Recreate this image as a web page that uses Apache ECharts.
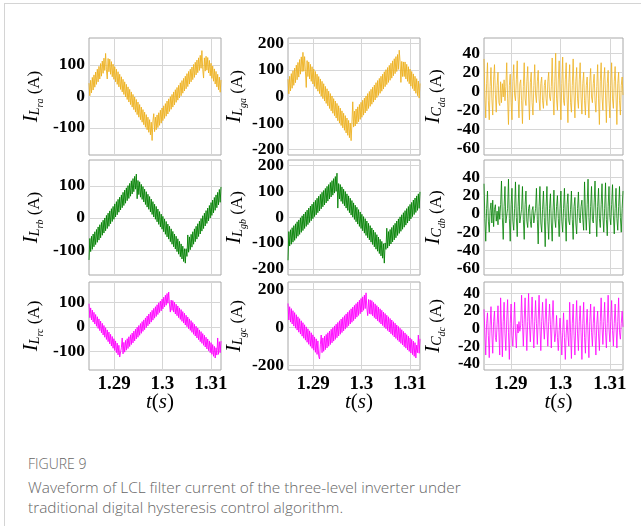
<!DOCTYPE html>
<html>
<head>
<meta charset="utf-8">
<title>Figure 9</title>
<script src="https://cdn.jsdelivr.net/npm/echarts@6.0.0/dist/echarts.min.js"></script>
<style>
  html, body { margin: 0; padding: 0; background: #fff; }
  #frame { position: absolute; left: 4px; top: 3px; width: 700px; height: 600px;
           border-left: 1px solid #d4d4d4; border-top: 1px solid #d4d4d4; }
  #chart { position: absolute; left: 0; top: 0; width: 641px; height: 430px; }
  #caption { position: absolute; left: 28px; top: 456px; font-family: "Open Sans", sans-serif; color: #666; font-weight: 300; }
  #caption .fig { font-size: 14px; line-height: 16px; }
  #caption .txt { margin-top: 6px; font-size: 15.4px; line-height: 20px; }
</style>
</head>
<body>
<div id="frame"></div>
<div id="chart"></div>
<div id="caption">
  <div class="fig">FIGURE 9</div>
  <div class="txt">Waveform of LCL filter current of the three-level inverter under<br>traditional digital hysteresis control algorithm.</div>
</div>
<script>
// time ticks shared by every panel
const timeTicks = [1.29, 1.3, 1.31];

// y tick labels
const yTicksLr = [-100, 0, 100];
const yTicksLg = [-200, -100, 0, 100, 200];
const yTicksLgc = [-200, 0, 200];
const yTicksCab = [-60, -40, -20, 0, 20, 40];
const yTicksCc = [-40, -20, 0, 20, 40];

// inverter-side inductor currents (A) (160 samples each)
const iLra = [42, 2, 51, 11, 60, 20, 68, 29, 77, 38,
  86, 46, 95, 55, 104, 64, 112, 73, 121, 82,
  136, 84, 55, 120, 78, 118, 70, 110, 62, 102,
  54, 94, 46, 86, 38, 78, 30, 70, 22, 62,
  14, 54, 6, 46, -2, 38, -10, 30, -18, 22,
  -26, 14, -34, 6, -42, -2, -50, -10, -58, -18,
  -66, -26, -74, -34, -82, -42, -90, -50, -98, -58,
  -106, -66, -114, -74, -122, -82, -140, -78, -55, -112,
  -66, -106, -59, -99, -52, -92, -44, -85, -37, -77,
  -30, -70, -23, -63, -15, -56, -8, -48, -1, -41,
  6, -34, 14, -27, 21, -19, 28, -12, 35, -5,
  43, 2, 50, 10, 57, 17, 64, 24, 72, 31,
  79, 39, 86, 46, 93, 53, 101, 60, 108, 68,
  115, 75, 122, 82, 130, 89, 145, 85, 58, 122,
  80, 127, 83, 123, 74, 114, 65, 105, 57, 96,
  48, 87, 39, 79, 30, 70, 21, 61, 13, 52];
const iLrb = [-131, -64, -105, -57, -98, -50, -90, -43, -83, -36,
  -76, -28, -69, -21, -62, -14, -54, -7, -47, 0,
  -40, 8, -33, 15, -26, 22, -18, 29, -11, 36,
  -4, 44, 3, 51, 10, 58, 18, 65, 25, 72,
  32, 80, 39, 87, 46, 94, 54, 101, 61, 108,
  68, 116, 75, 123, 82, 130, 90, 137, 60, 117,
  73, 113, 65, 105, 58, 98, 50, 90, 42, 82,
  34, 74, 27, 67, 19, 59, 11, 51, 3, 43,
  -4, 36, -12, 28, -20, 20, -28, 12, -35, 5,
  -43, -3, -51, -11, -59, -19, -66, -26, -74, -34,
  -82, -42, -90, -50, -97, -57, -105, -65, -113, -73,
  -121, -81, -128, -88, -136, -96, -141, -96, -120, -53,
  -107, -59, -99, -51, -91, -43, -82, -34, -74, -26,
  -66, -18, -58, -10, -50, -2, -41, 7, -33, 15,
  -25, 23, -17, 31, -9, 39, 0, 48, 8, 56,
  16, 64, 24, 72, 32, 80, 41, 89, 49, 97];
const iLrc = [95, 38, 78, 29, 69, 20, 60, 12, 51, 3,
  42, -6, 33, -15, 24, -24, 15, -33, 6, -42,
  -3, -51, -12, -60, -21, -69, -30, -78, -39, -87,
  -48, -96, -57, -105, -66, -114, -75, -123, -131, -85,
  -45, -110, -63, -103, -55, -95, -48, -88, -40, -80,
  -32, -72, -25, -65, -17, -57, -9, -49, -1, -42,
  6, -34, 14, -26, 22, -18, 29, -11, 37, -3,
  45, 5, 53, 12, 60, 20, 68, 28, 76, 36,
  83, 43, 91, 51, 99, 59, 106, 66, 114, 74,
  122, 82, 130, 89, 137, 97, 143, 90, 61, 110,
  68, 108, 61, 101, 53, 93, 46, 86, 38, 78,
  31, 71, 23, 63, 16, 56, 8, 48, 1, 41,
  -7, 33, -14, 26, -22, 18, -30, 11, -37, 3,
  -45, -4, -52, -12, -60, -19, -67, -27, -75, -34,
  -82, -42, -90, -49, -97, -57, -105, -64, -112, -72,
  -120, -79, -127, -85, -115, -45, -112, -60, -105, -58];

// grid-side inductor currents (A)
const iLga = [65, 10, 76, 21, 86, 31, 97, 42, 107, 52,
  118, 63, 128, 73, 139, 84, 149, 94, 166, 95,
  150, 95, 34, 135, 75, 130, 66, 121, 57, 112,
  47, 103, 38, 94, 29, 84, 20, 75, 11, 66,
  1, 57, -8, 48, -17, 38, -26, 29, -35, 20,
  -45, 11, -54, 2, -63, -8, -72, -17, -81, -26,
  -91, -35, -100, -44, -109, -54, -118, -63, -127, -72,
  -137, -81, -146, -90, -155, -100, -166, -100, -20, -115,
  -55, -111, -47, -103, -39, -95, -30, -86, -22, -78,
  -14, -70, -6, -62, 2, -54, 11, -45, 19, -37,
  27, -29, 35, -21, 43, -13, 52, -4, 60, 4,
  68, 12, 76, 20, 84, 28, 93, 37, 101, 45,
  109, 53, 117, 61, 125, 69, 134, 78, 142, 86,
  150, 94, 158, 102, 174, 130, 53, 132, 75, 130,
  75, 130, 66, 121, 57, 112, 48, 103, 39, 94,
  30, 85, 21, 76, 12, 67, 3, 58, -6, 49];
const iLgb = [-167, -56, -112, -49, -105, -41, -97, -33, -90, -26,
  -82, -18, -74, -11, -67, -3, -59, 5, -52, 12,
  -44, 20, -36, 27, -29, 35, -21, 43, -14, 50,
  -6, 58, 2, 65, 9, 73, 17, 81, 24, 88,
  32, 96, 40, 103, 47, 111, 55, 119, 62, 126,
  70, 134, 78, 141, 85, 149, 93, 157, 100, 170,
  35, 130, 70, 126, 61, 117, 52, 108, 44, 99,
  35, 90, 26, 82, 17, 73, 8, 64, 0, 55,
  -9, 46, -18, 38, -27, 29, -36, 20, -44, 11,
  -53, 2, -62, -6, -71, -15, -80, -24, -88, -33,
  -97, -42, -106, -50, -115, -59, -124, -68, -132, -77,
  -141, -86, -150, -94, -159, -103, -178, -100, -125, -43,
  -120, -56, -112, -48, -104, -40, -96, -32, -88, -24,
  -80, -15, -71, -7, -63, 1, -55, 9, -47, 17,
  -39, 25, -31, 33, -23, 41, -15, 49, -7, 57,
  2, 66, 10, 74, 18, 82, 26, 90, 34, 98];
const iLgc = [124, 37, 107, 26, 97, 16, 86, 5, 76, -6,
  65, -16, 54, -27, 44, -37, 33, -48, 23, -59,
  12, -69, 1, -80, -9, -91, -20, -101, -30, -112,
  -41, -122, -52, -133, -62, -144, -73, -154, -168, -90,
  -42, -135, -57, -128, -48, -119, -39, -110, -30, -101,
  -21, -92, -12, -83, -3, -74, 6, -65, 15, -56,
  24, -47, 33, -38, 42, -29, 51, -20, 60, -11,
  69, -2, 78, 7, 87, 16, 96, 25, 105, 34,
  114, 43, 123, 52, 132, 61, 141, 70, 150, 79,
  159, 88, 168, 97, 180, 100, 60, 145, 70, 143,
  67, 139, 59, 130, 50, 122, 42, 113, 33, 105,
  25, 96, 16, 88, 8, 79, -1, 71, -9, 62,
  -18, 54, -26, 45, -35, 37, -43, 28, -52, 20,
  -60, 11, -69, 3, -77, -6, -86, -14, -94, -23,
  -103, -31, -111, -40, -120, -48, -128, -57, -137, -65,
  -145, -74, -154, -82, -163, -95, -135, -42, -138, -62];

// filter capacitor currents (A)
const iCda = [34, -5, -28, 8, 30, -10, -30, 5, 25, -8, -25, 12, 28, -3, -22, 6, 20, -12, -15,
  10, -12, 8, -6, 12, -10, 5,
  30, -8, -35, 6, 18, -12, -30, 10, 28, -4, -10, 12, 32, -6, -28, 8, 12, -10, -34, 5,
  30, -8, -15, 10, 26, -5, -30, 9, 20, -12, -25, 6, 28, -4, -12, 10, 22, -8,
  -20, 8, 15, -10, -18, 6, 12, -8, -15, 10, 20, -6, -10, 5,
  35, -6, -25, 10, 40, -8, -20, 12, 32, -5, -30, 8, 36, -10, -15, 12, 30, -6,
  -33, 9, 28, -12, -22, 6, 34, -4, -28, 10, 25, -8, -18, 12, 30, -6, -24,
  8, 20, -10, -25, 6, 15, -8, -28, 10, 24, -6, -12, 8, 18, -10, -22,
  5, 28, -8, -35, 10, 30, -6, -20, 12, 25, -4, -33, 8, 22, -10, -28,
  6, 30, -8, -18, 10, 26, -5, -35, 8, 20, -10, -25, 6, 15, -4];
const iCdb = [33, -5, -30, 6, 25, -8, -20, 4,
  12, -10, 15, -14, 5, 10, -8, 3, -12, 8, -6, 10,
  36, -4, -28, 8, 30, -10, -10, 6, 38, -5, -30, 10, 28, -8, -18, 6,
  35, -4, -25, 8, 32, -10, -12, 5, 30, -6, -28, 10, 25, -8, -15, 6,
  10, -8, -15, 4, 8, -10, -12, 6,
  28, -6, -33, 8, 30, -10, -20, 5, 25, -4, -36, 8, 30, -8, -28, 6,
  22, -10, -30, 4, 26, -6, -15, 8, 20, -5, -25, 6,
  25, -8, -20, 6, 28, -4, -30, 10, 22, -8, -12, 5, 25, -6, -28, 8,
  18, -10, -22, 6, 24, -4, -10, 8, 15, -6, -18,
  35, 2, -18, 10, 38, -4, -22, 8, 30, -6, -10, 12, 36, -2, -25, 8,
  28, -5, -15, 10, 33, -3, -20, 6, 34, -6, -24, 8, 30, -4, -12, 10,
  32, -2, -22, 6, 28, -5, -18, 8, 30, -4, -20, 6, 25];
const iCdc = [22, -5, -30, 6, 18, -8, -33, 4, 25, -6, -28, 8, 20, -10, -15, 5, 26, -4, -30,
  35, 2, -32, 8, 30, -6, -25, 10, 33, -4, -35, 6, 28, -8, -20, 4, 30, -5, -22,
  5, -5, 8, -3, 4,
  38, 6, -20, 10, 35, 2, -25, 8, 40, 4, -15, 10, 36, 0, -22, 8, 32, 6, -18, 10,
  38, 2, -25, 8, 30, 4, -12, 10, 34, 0, -20, 8, 28, 5, -22, 10, 32, 2, -15,
  -5, 15, -10, -25, -2, 12, -8, -30, -4, 18, -10, -35, -6, 10, -8, -20,
  30, -4, -34, 6, 28, -8, -30, 5, 32, -6, -25, 8, 26, -4, -35, 6, 30, -10,
  -28, 4, 22, -6, -33, 8, 28, -4, -20, 6, 25, -8, -30, 5, 20, -6, -25, 8,
  35, 2, -18, 8, 30, -4, -22, 6, 38, 0, -15, 8, 32, -2, -20, 6, 28, 2,
  -22, 8, 35, -4, -12, 6, 20, 2];

const serif = '"Liberation Serif", "Times New Roman", serif';
const phaseColors = ['#EDB120', '#008000', '#FF00FF'];
const gridColor = '#d6d6d6';
const boxColor = '#a8a8a8';

// pixel layout of the 3x3 axes
const colLeft = [89, 288, 484];
const colWidth = [132, 132, 139];
const rowTop = [38, 160, 282];
const rowHeight = [117, 115, 88];
const colTime = [[1.2848, 1.3121], [1.2848, 1.3121], [1.28455, 1.31263]];
const colNameGap = [44, 40, 37];
const colLineWidth = [0.9, 0.9, 0.8];

const panels = [
  { row: 0, col: 0, values: iLra, sym: 'L', sub: 'ra', y: [-186, 185], ticks: yTicksLr },
  { row: 0, col: 1, values: iLga, sym: 'L', sub: 'ga', y: [-220, 220], ticks: yTicksLg },
  { row: 0, col: 2, values: iCda, sym: 'C', sub: 'da', y: [-67, 56], ticks: yTicksCab },
  { row: 1, col: 0, values: iLrb, sym: 'L', sub: 'rb', y: [-178, 181], ticks: yTicksLr },
  { row: 1, col: 1, values: iLgb, sym: 'L', sub: 'gb', y: [-224, 221], ticks: yTicksLg },
  { row: 1, col: 2, values: iCdb, sym: 'C', sub: 'db', y: [-67, 59], ticks: yTicksCab },
  { row: 2, col: 0, values: iLrc, sym: 'L', sub: 'rc', y: [-176, 184], ticks: yTicksLr },
  { row: 2, col: 1, values: iLgc, sym: 'L', sub: 'gc', y: [-226, 237], ticks: yTicksLgc },
  { row: 2, col: 2, values: iCdc, sym: 'C', sub: 'dc', y: [-47, 53], ticks: yTicksCc, tight: true }
];

const nameRich = {
  I: { fontFamily: serif, fontStyle: 'italic', fontSize: 21, color: '#000' },
  L: { fontFamily: serif, fontStyle: 'italic', fontSize: 14, color: '#000', padding: [8, 0, 0, 0] },
  s: { fontFamily: serif, fontStyle: 'italic', fontSize: 10, color: '#000', padding: [17, 0, 0, 0] },
  A: { fontFamily: serif, fontSize: 17, color: '#000', padding: [6, 0, 0, 0] }
};

const grid = [], xAxis = [], yAxis = [], series = [];

panels.forEach((p, k) => {
  const tr = colTime[p.col];
  const isBottom = p.row === 2;
  const color = phaseColors[p.row];

  grid.push({
    left: colLeft[p.col], top: rowTop[p.row],
    width: colWidth[p.col], height: rowHeight[p.row],
    show: true, borderColor: boxColor, borderWidth: 1,
    outerBoundsMode: 'none'
  });

  xAxis.push({
    type: 'value', gridIndex: k, min: tr[0], max: tr[1],
    axisLine: { show: false },
    axisTick: { show: false, customValues: timeTicks },
    axisLabel: {
      show: isBottom, customValues: timeTicks, margin: 5, interval: 0,
      showMinLabel: true, showMaxLabel: true,
      fontFamily: serif, fontWeight: 'bold', fontSize: 19, color: '#000'
    },
    splitLine: { show: true, lineStyle: { color: gridColor, width: 1 } },
    name: isBottom ? '{i|t}({i|s})' : '',
    nameLocation: 'middle', nameGap: 21, nameMoveOverlap: false,
    nameTextStyle: {
      fontFamily: serif, fontSize: 21, color: '#000', lineHeight: 22,
      padding: [0, 0, 0, 10],
      rich: { i: { fontFamily: serif, fontStyle: 'italic', fontSize: 21, color: '#000' } }
    }
  });

  yAxis.push({
    type: 'value', gridIndex: k, min: p.y[0], max: p.y[1],
    axisLine: { show: false },
    axisTick: { show: false, customValues: p.ticks },
    axisLabel: {
      customValues: p.ticks, margin: 4, interval: 0, hideOverlap: false,
      lineHeight: p.tight ? 12 : 14,
      showMinLabel: true, showMaxLabel: true,
      fontFamily: serif, fontWeight: 'bold', fontSize: p.tight ? 16.5 : 17.5, color: '#000'
    },
    splitLine: { show: true, lineStyle: { color: gridColor, width: 1 } },
    name: '{I|I}{L|' + p.sym + '}{s|' + p.sub + '}{A| (A)}',
    nameLocation: 'middle', nameGap: colNameGap[p.col], nameMoveOverlap: false,
    nameTextStyle: { rich: nameRich }
  });

  // samples are evenly spaced over the visible time window
  const n = p.values.length;
  series.push({
    type: 'line', xAxisIndex: k, yAxisIndex: k,
    data: p.values.map((v, i) => [tr[0] + (tr[1] - tr[0]) * i / (n - 1), v]),
    showSymbol: false, symbol: 'none', silent: true, sampling: null,
    lineStyle: { width: colLineWidth[p.col], color: color },
    itemStyle: { color: color }
  });
});

const chart = echarts.init(document.getElementById('chart'), null, { renderer: 'canvas' });
chart.setOption({
  animation: false,
  backgroundColor: 'transparent',
  grid: grid,
  xAxis: xAxis,
  yAxis: yAxis,
  series: series
});
</script>
</body>
</html>
